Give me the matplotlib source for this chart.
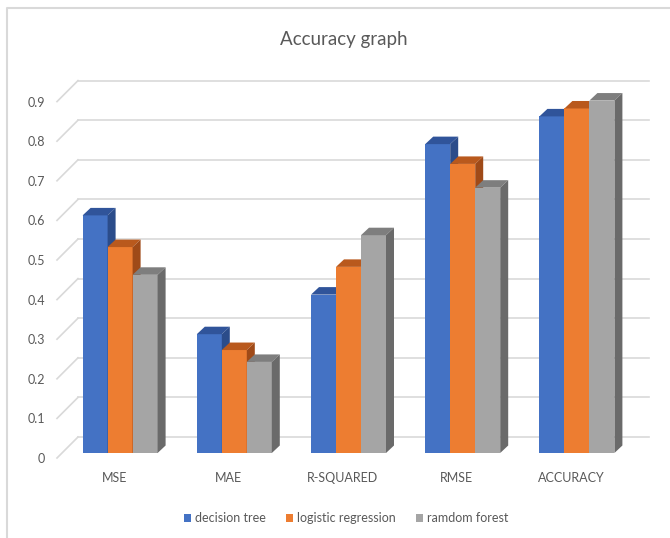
import numpy as np
import matplotlib
matplotlib.use('Agg')
import matplotlib.pyplot as plt
from matplotlib.patches import Polygon, Patch
from matplotlib.lines import Line2D

# --- data ---
metrics = ['MSE', 'MAE', 'R-SQUARED', 'RMSE', 'ACCURACY']
decision_tree = [0.60, 0.30, 0.40, 0.78, 0.85]
logistic_regression = [0.52, 0.26, 0.47, 0.73, 0.87]
random_forest = [0.45, 0.23, 0.55, 0.67, 0.89]
series_names = ['decision tree', 'logistic regression', 'ramdom forest']
y_ticks = [0, 0.1, 0.2, 0.3, 0.4, 0.5, 0.6, 0.7, 0.8, 0.9]
y_tick_labels = ['0', '0.1', '0.2', '0.3', '0.4', '0.5', '0.6', '0.7', '0.8', '0.9']

# front / top / side colours per series
front_colors = ['#4472C4', '#ED7D31', '#A5A5A5']
top_colors = ['#30549A', '#B9591D', '#7E7E7E']
side_colors = ['#2B4C8A', '#9F4A18', '#6A6A6A']

plt.rcParams['font.family'] = ['Lato', 'DejaVu Sans']
text_color = '#595959'
grid_color = '#D9D9D9'

W, H = 670, 538
fig = plt.figure(figsize=(W / 100, H / 100), dpi=100)

# axes placed in pixels so that pixel offsets can be converted to data units
ax_left, ax_right = 57, 628
ax_zero, ax_top = 458, 101.6
ax = fig.add_axes([ax_left / W, (H - ax_zero) / H,
                   (ax_right - ax_left) / W, (ax_zero - ax_top) / H])
ax.set_xlim(-0.5, len(metrics) - 0.5)
ax.set_ylim(0, 0.9)

px_x = (ax_right - ax_left) / len(metrics)   # pixels per category
px_y = (ax_zero - ax_top) / 0.9              # pixels per unit value

def dx(p):
    return p / px_x

def dy(p):
    return p / px_y

# back wall offset, bar plane offset, bar depth (all in pixels)
wall = (21, 21)
plane = (6, 5)
depth = (8, 7.5)

# gridlines on the back wall, with diagonal connectors to the front
x0, x1 = ax.get_xlim()
for v in y_ticks:
    ax.plot([x0, x0 + dx(wall[0])], [v, v + dy(wall[1])], color=grid_color,
            lw=1.2, clip_on=False, zorder=1)
    ax.plot([x0 + dx(wall[0]), x1 + dx(wall[0])], [v + dy(wall[1])] * 2,
            color=grid_color, lw=1.2, clip_on=False, zorder=1)

# 3D-looking columns
all_series = [decision_tree, logistic_regression, random_forest]
bar_w = dx(25)
ddx, ddy = dx(depth[0]), dy(depth[1])
z = 2
for i, name in enumerate(metrics):
    for j, values in enumerate(all_series):
        v = values[i]
        left = i - 1.5 * bar_w + j * bar_w + dx(plane[0])
        base = dy(plane[1])
        ax.bar(left, v, width=bar_w, bottom=base, align='edge',
               color=front_colors[j], zorder=z, clip_on=False)
        top = Polygon([(left, base + v), (left + bar_w, base + v),
                       (left + bar_w + ddx, base + v + ddy), (left + ddx, base + v + ddy)],
                      closed=True, facecolor=top_colors[j], edgecolor='none',
                      zorder=z, clip_on=False)
        side = Polygon([(left + bar_w, base), (left + bar_w, base + v),
                        (left + bar_w + ddx, base + v + ddy), (left + bar_w + ddx, base + ddy)],
                       closed=True, facecolor=side_colors[j], edgecolor='none',
                       zorder=z, clip_on=False)
        ax.add_patch(top)
        ax.add_patch(side)
        z += 1

# axes styling
for s in ax.spines.values():
    s.set_visible(False)
ax.set_yticks(y_ticks)
ax.set_yticklabels(y_tick_labels)
ax.set_xticks(range(len(metrics)))
ax.set_xticklabels(metrics)
ax.tick_params(axis='y', length=0, pad=8.6, labelsize=9, labelcolor=text_color)
ax.tick_params(axis='x', length=0, pad=10, labelsize=9, labelcolor=text_color)

# title
fig.text(344 / W, 1 - 40 / H, 'Accuracy graph', ha='center', va='center',
         fontsize=13.5, color=text_color)

# legend
handles = [Patch(facecolor=c, edgecolor='none') for c in front_colors]
fig.legend(handles, series_names, loc='center', bbox_to_anchor=(346 / W, 1 - 518 / H),
           ncol=3, frameon=False, handlelength=0.6, handleheight=0.6,
           handletextpad=0.3, columnspacing=1.6, fontsize=9, labelcolor=text_color)

# chart border
fig.add_artist(Line2D([7 / W, 7 / W, 1], [0, 1 - 8 / H, 1 - 8 / H],
                      color='#D9D9D9', lw=1.5, transform=fig.transFigure))

fig.savefig('out.png', dpi=100)
